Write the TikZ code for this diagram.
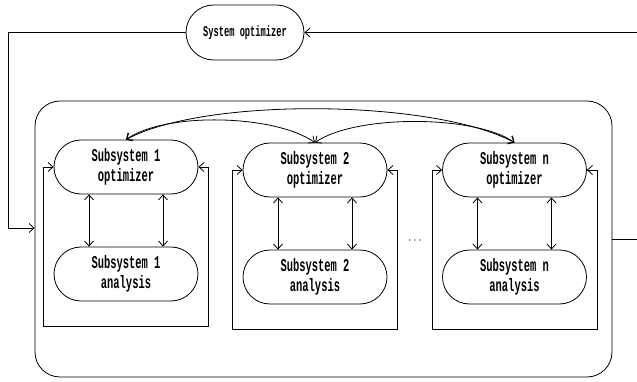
\documentclass[tikz,border=0pt]{standalone}
\usepackage{fontspec}
\usepackage{tikz}
\usetikzlibrary{positioning,calc,shapes.misc,arrows.meta}
\newfontfamily\diafont[FakeStretch=0.58]{Liberation Mono}

\begin{document}
\begin{tikzpicture}[x=1pt,y=-1pt,line width=0.8pt,
    >={Straight Barb[length=5pt,width=9pt]},
    pill/.style={draw, rounded rectangle, minimum width=144pt, minimum height=54pt,
        inner sep=0pt, align=center, font=\diafont\bfseries\fontsize{18}{20}\selectfont}]
            \useasboundingbox (0,0) rectangle (637,382);

            % Draw the system level optimizer and the outer frame
            \node[pill, minimum width=118pt, minimum height=55pt,
                font=\diafont\bfseries\fontsize{15}{18}\selectfont] (sys) at (245,32.5) {System optimizer};
            \node[draw, rounded corners=25pt, minimum width=577pt, minimum height=276pt] (outer) at (323.5,239) {};

            % Draw the subsystems with their local loops
            \foreach \i/\x/\y in {1/126/167, 2/315/170, n/514.5/170} {
                \node[pill] (opt\i) at (\x,\y) {Subsystem \i\\optimizer};
                \node[pill] (ana\i) at (\x,\y+107) {Subsystem \i\\analysis};
                \draw[<->] ([xshift=-37pt]opt\i.south) -- ([xshift=-37pt]ana\i.north);
                \draw[<->] ([xshift=37pt]opt\i.south) -- ([xshift=37pt]ana\i.north);
                \draw[<->] (opt\i.west) -- ++(-10,0) |- ($(ana\i.south)+(0,25)$)
                    -| ($(opt\i.east)+(10,0)$) -- (opt\i.east);
            }
            \node (dots) at (415,241) {\large$\cdots$};

            % Couplings between the subsystem optimizers
            \draw[<->] (opt1.north) .. controls +(40,-28) and +(-40,-28) .. (opt2.north);
            \draw[<->] (opt2.north) .. controls +(40,-28) and +(-40,-28) .. (optn.north);
            \draw[<->] (opt1.north) .. controls +(80,-43) and +(-80,-43) .. (optn.north);

            % Links to and from the system optimizer
            \draw[->] (sys.west) -- ++(-177,0) |- ([yshift=11pt]outer.west);
            \draw[->] (outer.east) -- ++(40,0) |- (sys.east);
        \end{tikzpicture}
\end{document}
